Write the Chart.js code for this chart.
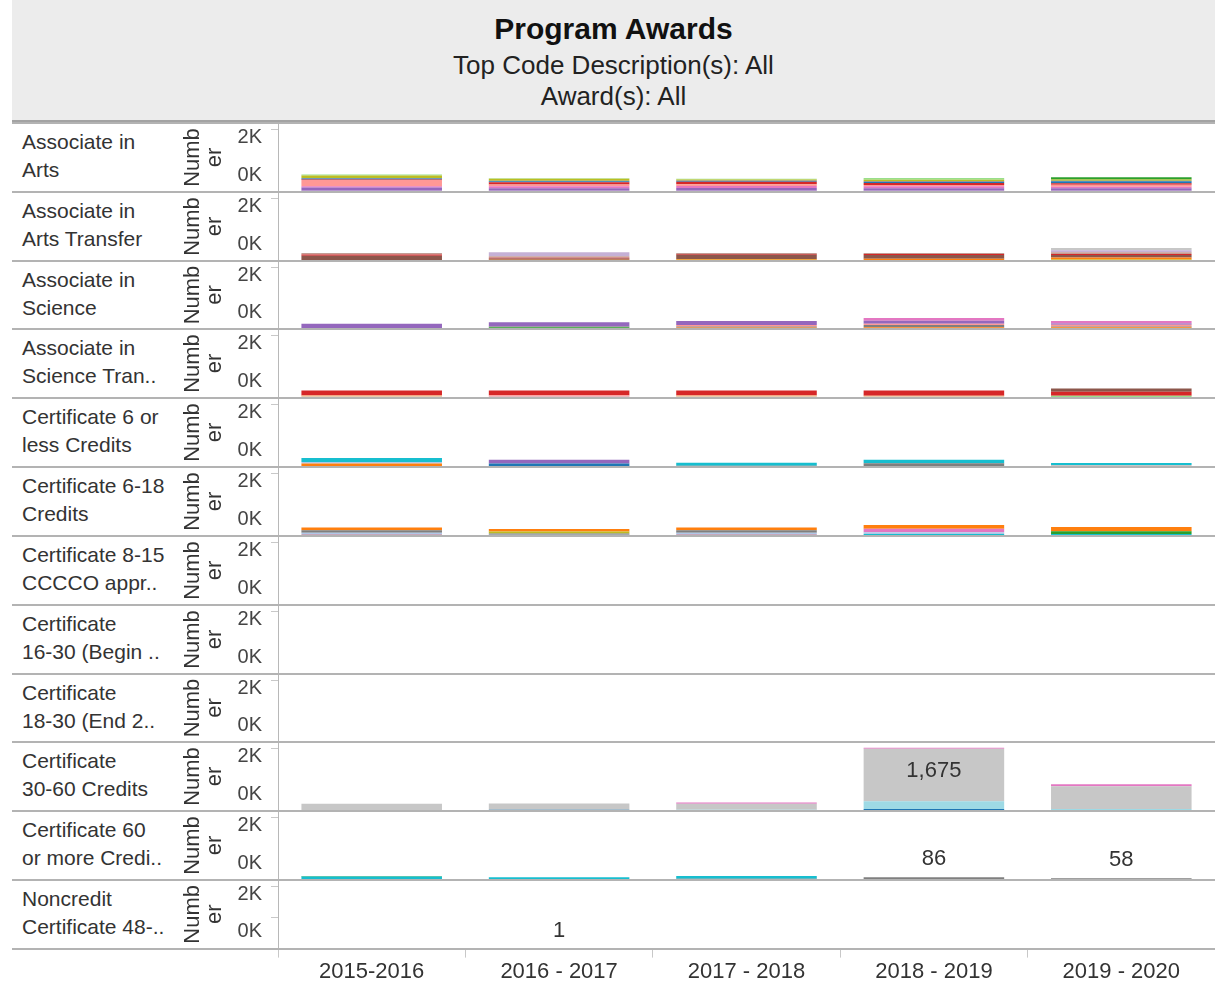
<!DOCTYPE html>
<html>
<head>
<meta charset="utf-8">
<title>Program Awards</title>
<script src="https://cdn.jsdelivr.net/npm/chart.js@4.4.1/dist/chart.umd.min.js"></script>
<style>
  body { margin: 0; background: #fff; font-family: "Liberation Sans", Arial, sans-serif; }
  #page { position: relative; width: 1215px; height: 985px; overflow: hidden; }
  #header { position: absolute; left: 12px; top: 0; width: 1203px; height: 120px; background: #ececec; border-bottom: 2px solid #a3a3a3; }
  #header div { position: absolute; left: 0; width: 100%; text-align: center; white-space: nowrap; }
  .title { top: 12px; font-size: 30px; font-weight: bold; color: #111; }
  .sub1 { top: 50px; font-size: 26px; color: #222; }
  .sub2 { top: 81px; font-size: 26px; color: #222; }
  .rowlabel { position: absolute; left: 22px; font-size: 21px; line-height: 28px; color: #333; white-space: nowrap; }
  .sep { position: absolute; left: 12px; width: 1203px; height: 2px; background: #b3b3b3; z-index: 2; }
  canvas { position: absolute; left: 178px; }
</style>
</head>
<body>
<div id="page">
  <div id="header">
    <div class="title">Program Awards</div>
    <div class="sub1">Top Code Description(s): All</div>
    <div class="sub2">Award(s): All</div>
  </div>
</div>
<script>
// categories
const years = ['2015-2016', '2016 - 2017', '2017 - 2018', '2018 - 2019', '2019 - 2020'];
const awardLabels = [
  ['Associate in', 'Arts'],
  ['Associate in', 'Arts Transfer'],
  ['Associate in', 'Science'],
  ['Associate in', 'Science Tran..'],
  ['Certificate 6 or', 'less Credits'],
  ['Certificate 6-18', 'Credits'],
  ['Certificate 8-15', 'CCCCO appr..'],
  ['Certificate', '16-30 (Begin ..'],
  ['Certificate', '18-30 (End 2..'],
  ['Certificate', '30-60 Credits'],
  ['Certificate 60', 'or more Credi..'],
  ['Noncredit', 'Certificate 48-..']
];
const yTicks = [0, 1000, 2000];

// one list per top code (bottom of the stack first), values per year
const assocArtsCodes = [9, 8, 12, 7, 6, 0, 14, 16, 5, 4];
const assocArts = [
  [40, 40, 40, 40, 40],
  [100, 80, 90, 80, 80],
  [40, 60, 60, 60, 50],
  [200, 60, 60, 40, 60],
  [20, 70, 80, 70, 50],
  [30, 30, 20, 30, 60],
  [20, 20, 20, 20, 20],
  [80, 60, 30, 50, 40],
  [30, 20, 20, 60, 0],
  [0, 0, 0, 0, 70]
];

const assocArtsTransferCodes = [16, 2, 10, 6, 11, 9, 15];
const assocArtsTransfer = [
  [10, 30, 40, 20, 50],
  [10, 10, 20, 50, 60],
  [150, 40, 140, 120, 80],
  [40, 20, 20, 30, 30],
  [45, 50, 35, 35, 60],
  [0, 130, 0, 0, 60],
  [0, 0, 0, 0, 75]
];

const assocScienceCodes = [2, 4, 14, 7, 8, 12];
const assocScience = [
  [0, 0, 50, 60, 60],
  [30, 60, 0, 0, 0],
  [0, 20, 30, 70, 20],
  [0, 0, 50, 40, 60],
  [140, 140, 130, 100, 40],
  [0, 0, 0, 85, 80]
];

const assocScienceTransferCodes = [1, 5, 3, 7, 6, 10];
const assocScienceTransfer = [
  [40, 40, 40, 40, 30],
  [0, 0, 0, 0, 40],
  [40, 0, 40, 30, 0],
  [0, 50, 0, 0, 0],
  [160, 150, 160, 170, 130],
  [0, 0, 0, 0, 100]
];

const cert6LessCodes = [15, 2, 1, 0, 14, 8, 18];
const cert6Less = [
  [0, 0, 0, 0, 60],
  [110, 0, 0, 0, 0],
  [50, 0, 0, 0, 0],
  [0, 110, 0, 0, 0],
  [0, 0, 40, 120, 0],
  [0, 120, 0, 0, 0],
  [130, 0, 95, 110, 65]
];

const cert6to18Codes = [6, 18, 1, 14, 4, 12, 16, 2];
const cert6to18 = [
  [40, 0, 40, 0, 0],
  [0, 0, 0, 60, 60],
  [60, 40, 60, 60, 0],
  [80, 40, 80, 0, 0],
  [0, 0, 0, 0, 90],
  [0, 0, 0, 110, 0],
  [0, 60, 0, 0, 0],
  [90, 85, 90, 120, 135]
];

const cert8to15Codes = [];
const cert8to15 = [];
const cert16to30Codes = [];
const cert16to30 = [];
const cert18to30Codes = [];
const cert18to30 = [];

const cert30to60Codes = [0, 19, 15, 12];
const cert30to60 = [
  [0, 40, 0, 60, 0],
  [0, 0, 40, 250, 60],
  [230, 200, 190, 1675, 730],
  [0, 0, 40, 30, 60]
];

const cert60MoreCodes = [14, 18, 4];
const cert60More = [
  [20, 0, 40, 86, 58],
  [90, 85, 90, 0, 0],
  [20, 0, 0, 0, 0]
];

const noncredit48Codes = [14];
const noncredit48 = [
  [0, 1, 0, 0, 0]
];

const awards = [assocArts, assocArtsTransfer, assocScience, assocScienceTransfer, cert6Less, cert6to18,
  cert8to15, cert16to30, cert18to30, cert30to60, cert60More, noncredit48];
const awardCodes = [assocArtsCodes, assocArtsTransferCodes, assocScienceCodes, assocScienceTransferCodes,
  cert6LessCodes, cert6to18Codes, cert8to15Codes, cert16to30Codes, cert18to30Codes,
  cert30to60Codes, cert60MoreCodes, noncredit48Codes];

// marks that carry a label: [award row, year]
const labelledMarks = [[9, 3], [10, 3], [10, 4], [11, 1]];

// tableau 20 colours, by top code
const topCodeColors = ['#1f77b4', '#aec7e8', '#ff7f0e', '#ffbb78', '#2ca02c', '#98df8a', '#d62728', '#ff9896',
  '#9467bd', '#c5b0d5', '#8c564b', '#c49c94', '#e377c2', '#f7b6d2', '#7f7f7f', '#c7c7c7',
  '#bcbd22', '#dbdb8d', '#17becf', '#9edae5'];

const fontFamily = '"Liberation Sans", Arial, sans-serif';
const firstRowTop = 123;
const rowHeight = 68.83;

// label on top of a stack (inside the bar when there is no room above)
const markLabels = {
  id: 'markLabels',
  afterDatasetsDraw(chart, args, opts) {
    const marks = labelledMarks.filter(m => m[0] === opts.row);
    if (!marks.length) return;
    const ctx = chart.ctx, xs = chart.scales.x, ys = chart.scales.y;
    marks.forEach(([r, j]) => {
      const vals = awards[r].map(s => s[j]);
      const total = vals.reduce((a, b) => a + b, 0);
      const top = ys.getPixelForValue(total);
      const cy = top - 30 < chart.chartArea.top ? top + 23 : top - 18;
      ctx.save();
      ctx.font = '22px ' + fontFamily;
      ctx.fillStyle = '#333';
      ctx.textAlign = 'center';
      ctx.textBaseline = 'middle';
      ctx.fillText(Math.max(...vals).toLocaleString('en-US'), xs.getPixelForValue(j), cy);
      ctx.restore();
    });
  }
};

// keep the y tick labels inside the pane, like tableau does
const clampYLabels = {
  id: 'clampYLabels',
  beforeDraw(chart) {
    const area = chart.chartArea;
    chart.scales.y.getLabelItems().forEach(it => {
      const t = it.options.translation;
      t[1] = Math.min(Math.max(t[1], area.top + 14), area.bottom - 17);
    });
  }
};

const page = document.getElementById('page');

awards.forEach((segments, i) => {
  const top = Math.round(firstRowTop + i * rowHeight);
  const next = Math.round(firstRowTop + (i + 1) * rowHeight);
  const last = i === awards.length - 1;

  const sep = document.createElement('div');
  sep.className = 'sep';
  sep.style.top = (top - 1) + 'px';
  page.appendChild(sep);

  const lab = document.createElement('div');
  lab.className = 'rowlabel';
  lab.style.top = (top + 5) + 'px';
  lab.innerHTML = awardLabels[i].join('<br>');
  page.appendChild(lab);

  const h = next - top + (last ? 37 : 0);
  const canvas = document.createElement('canvas');
  canvas.width = 1037;
  canvas.height = h;
  canvas.style.top = top + 'px';
  page.appendChild(canvas);

  new Chart(canvas, {
    type: 'bar',
    data: {
      labels: years,
      datasets: segments.map((vals, k) => ({
        data: vals,
        backgroundColor: topCodeColors[awardCodes[i][k]],
        borderWidth: 0,
        barPercentage: 0.75,
        categoryPercentage: 1
      }))
    },
    options: {
      responsive: false,
      animation: false,
      layout: { padding: 0 },
      plugins: {
        legend: { display: false },
        tooltip: { enabled: false },
        markLabels: { row: i }
      },
      scales: {
        x: {
          stacked: true,
          display: last,
          grid: { offset: true, drawOnChartArea: false, drawTicks: true, tickLength: 9, color: '#c8c8c8' },
          border: { display: true, color: '#b3b3b3', width: 2 },
          ticks: { color: '#333', font: { size: 22, family: fontFamily }, padding: 1, maxRotation: 0, autoSkip: false }
        },
        y: {
          stacked: true,
          min: 0,
          max: 2200,
          afterBuildTicks: s => { s.ticks = yTicks.map(v => ({ value: v })); },
          afterFit: s => { s.width = 100; s.paddingTop = 0; s.paddingBottom = 0; },
          ticks: {
            callback: v => v === 1000 ? '' : (v / 1000) + 'K',
            color: '#444',
            font: { size: 20, family: fontFamily },
            padding: 9
          },
          grid: { drawOnChartArea: false, tickLength: 7, color: '#c8c8c8' },
          border: { color: '#b8b8b8' },
          title: {
            display: true,
            text: ['Numb', 'er'],
            color: '#333',
            font: { size: 22, family: fontFamily, lineHeight: 1 },
            padding: { top: 4, bottom: 0 }
          }
        }
      }
    },
    plugins: [markLabels, clampYLabels]
  });
});

const bottomSep = document.createElement('div');
bottomSep.className = 'sep';
bottomSep.style.top = (Math.round(firstRowTop + awards.length * rowHeight) - 1) + 'px';
page.appendChild(bottomSep);
</script>
</body>
</html>
